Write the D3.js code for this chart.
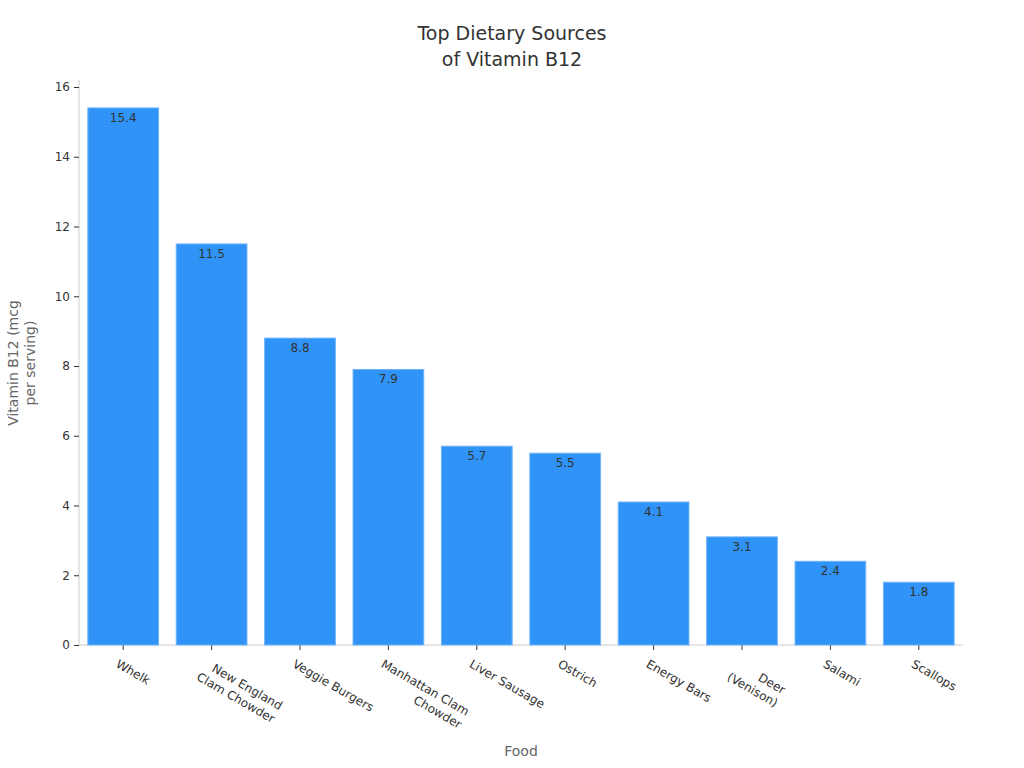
<!DOCTYPE html><html><head><meta charset="utf-8"><script src="https://cdn.jsdelivr.net/npm/d3@7"></script>
<style>body{margin:0;background:#fff;font-family:"DejaVu Sans",sans-serif}</style></head><body><svg id="c" width="1024" height="768"></svg><script>
const categories=["Whelk","New England\nClam Chowder","Veggie Burgers","Manhattan Clam\nChowder","Liver Sausage","Ostrich","Energy Bars","Deer\n(Venison)","Salami","Scallops"];
const values=[15.4,11.5,8.8,7.9,5.7,5.5,4.1,3.1,2.4,1.8];
const yTicks=[0,2,4,6,8,10,12,14,16];
const svg=d3.select("#c");
const L=79,R=963,T=80,B=645;
const x=d3.scaleBand().domain(categories).range([L,R]).paddingInner(0.2).paddingOuter(0.1);
const y=d3.scaleLinear().domain([0,16]).range([B,87]);
svg.append("text").attr("x",512).attr("y",40).attr("text-anchor","middle").attr("font-size",19).attr("fill","#333").text("Top Dietary Sources");
svg.append("text").attr("x",512).attr("y",66).attr("text-anchor","middle").attr("font-size",19).attr("fill","#333").text("of Vitamin B12");
const ya=svg.append("g").attr("transform",`translate(${L},0)`).call(d3.axisLeft(y).tickValues(yTicks).tickSize(5).tickPadding(4));
ya.select(".domain").attr("stroke","#ccc").attr("d",`M0,${T}V${B}`);
ya.selectAll(".tick line").attr("stroke","#333");
ya.selectAll("text").attr("font-size",12).attr("fill","#333").attr("font-family","DejaVu Sans");
const xa=svg.append("g").attr("transform",`translate(0,${B})`).call(d3.axisBottom(x).tickSize(5).tickFormat(""));
xa.select(".domain").attr("stroke","#ccc").attr("d",`M${L},0H${R}`);
xa.selectAll(".tick line").attr("stroke","#333");
svg.selectAll("rect.b").data(values).enter().append("rect").attr("class","b")
 .attr("x",(d,i)=>x(categories[i])).attr("width",x.bandwidth()).attr("y",d=>y(d)).attr("height",d=>B-y(d))
 .attr("fill","#2f93f7").attr("stroke","#6fb4fa").attr("stroke-width",1);
svg.selectAll("text.v").data(values).enter().append("text").attr("class","v")
 .attr("x",(d,i)=>x(categories[i])+x.bandwidth()/2).attr("y",d=>y(d)+14).attr("text-anchor","middle")
 .attr("font-size",12).attr("fill","#333").text(d=>d.toFixed(1));
categories.forEach(c=>{
 const g=svg.append("g").attr("transform",`translate(${x(c)+x.bandwidth()/2-4},${B+14}) rotate(30)`);
 const lines=c.split("\n");
 const ts=lines.map((l,i)=>g.append("text").attr("y",i*15).attr("dy","0.71em").attr("font-size",12).attr("fill","#333").attr("text-anchor","end").text(l));
 const w=d3.max(ts,t=>t.node().getComputedTextLength());
 ts.forEach(t=>t.attr("x",w));
});
svg.append("text").attr("x",521).attr("y",756).attr("text-anchor","middle").attr("font-size",14).attr("fill","#666").text("Food");
const yl=svg.append("text").attr("transform","translate(18,363) rotate(-90)").attr("text-anchor","middle").attr("font-size",14).attr("fill","#666");
yl.append("tspan").attr("x",0).attr("dy",0).text("Vitamin B12 (mcg");
yl.append("tspan").attr("x",0).attr("dy",17).text("per serving)");
</script></body></html>
